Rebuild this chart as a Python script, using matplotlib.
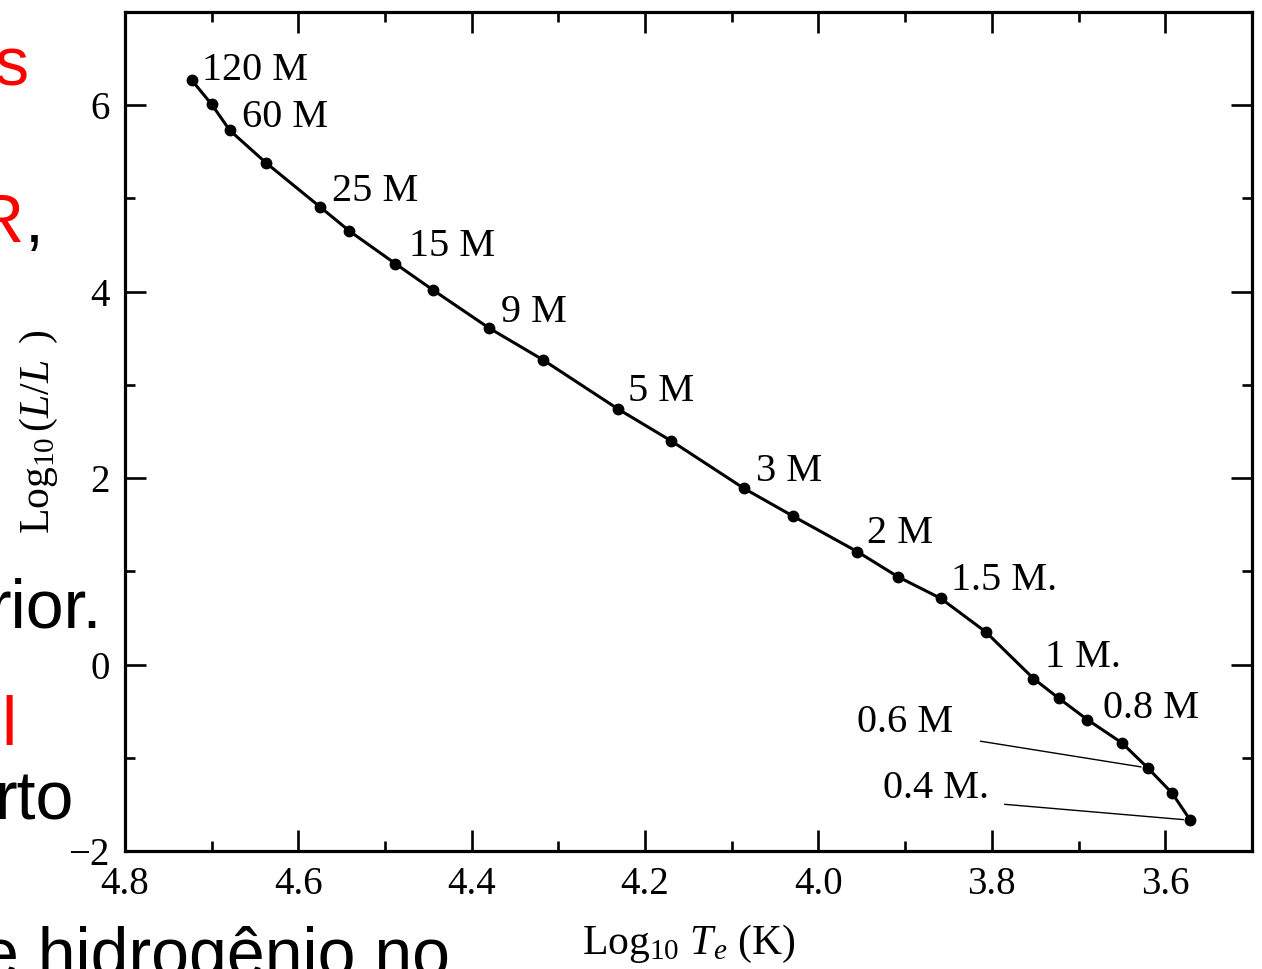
import matplotlib
matplotlib.use("Agg")
import matplotlib.pyplot as plt
from matplotlib.ticker import MultipleLocator

# zero-age main sequence
log_teff = [4.723, 4.700, 4.679, 4.637, 4.575, 4.541, 4.488, 4.445, 4.380, 4.318,
            4.231, 4.170, 4.086, 4.029, 3.955, 3.908, 3.859, 3.807, 3.752, 3.723,
            3.690, 3.650, 3.620, 3.592, 3.571]
log_lum = [6.27, 6.01, 5.73, 5.38, 4.91, 4.65, 4.30, 4.02, 3.61, 3.27,
           2.74, 2.40, 1.89, 1.59, 1.21, 0.94, 0.71, 0.35, -0.15, -0.36,
           -0.59, -0.84, -1.11, -1.38, -1.67]

# every second point carries a mass label
mass_labels = ["120 M", "60 M", "25 M", "15 M", "9 M", "5 M", "3 M", "2 M",
               "1.5 M.", "1 M.", "0.8 M", "0.6 M", "0.4 M."]

# label offsets from their point (pixels), the last two have leader lines
label_offsets = [(10, 10), (12, 13), (12, 15), (14, 17), (12, 16), (10, 18),
                 (12, 17), (10, 18), (10, 18), (12, 21), (16, 11),
                 (-291, 46), (-307, 32)]
leader_gap = {11: 18, 12: 9}

plt.rcParams["font.family"] = ["Liberation Serif", "DejaVu Serif"]
plt.rcParams["mathtext.fontset"] = "custom"
plt.rcParams["mathtext.rm"] = "Liberation Serif"
plt.rcParams["mathtext.it"] = "Liberation Serif:italic"

fig = plt.figure(figsize=(12.62, 9.69), dpi=100)
ax = fig.add_axes([0.099, 0.1218, 0.893, 0.8658])

ax.plot(log_teff, log_lum, color="black", lw=2.2, marker="o", ms=7.5)

for i, lab in enumerate(mass_labels):
    k = 2 * i
    dx, dy = label_offsets[i]
    if i in leader_gap:
        ax.annotate(lab, (log_teff[k], log_lum[k]), xytext=(dx, dy),
                    textcoords="offset pixels", ha="left", va="center", fontsize=29,
                    arrowprops=dict(arrowstyle="-", lw=1.0, color="black",
                                    relpos=(1.0, 0.1), shrinkA=leader_gap[i],
                                    shrinkB=5))
    else:
        ax.annotate(lab, (log_teff[k], log_lum[k]), xytext=(dx, dy),
                    textcoords="offset pixels", ha="left", va="center", fontsize=29)

ax.set_xlim(4.8, 3.5)
ax.set_ylim(-2, 7)
ax.xaxis.set_major_locator(MultipleLocator(0.2))
ax.xaxis.set_minor_locator(MultipleLocator(0.1))
ax.yaxis.set_major_locator(MultipleLocator(2))
ax.yaxis.set_minor_locator(MultipleLocator(1))
ax.tick_params(which="both", direction="in", top=True, right=True, width=1.9)
ax.tick_params(which="major", length=15, labelsize=28, pad=11)
ax.tick_params(which="minor", length=7)
for s in ax.spines.values():
    s.set_linewidth(2.3)

ax.set_xlabel(r"Log$_{10}$ $T_e$ (K)", fontsize=30, labelpad=14)
ax.set_ylabel(r"Log$_{10}\,$($L/L\;\;$)", fontsize=30, labelpad=6)

# leftover slide text overlapping the picture
W, H = 1262, 969
slide = dict(fontsize=49, family="Liberation Sans", va="baseline", ha="right")
fig.text(28 / W, 1 - 85 / H, "s", color="red", **slide)
fig.text(23 / W, 1 - 242 / H, "R", color="red", **slide)
fig.text(44 / W, 1 - 242 / H, ",", color="black", **slide)
fig.text(102 / W, 1 - 628 / H, "rior.", color="black", **slide)
fig.text(16 / W, 1 - 745 / H, "l", color="red", **slide)
fig.text(74 / W, 1 - 820 / H, "rto", color="black", **slide)
fig.text(450 / W, 1 - 976 / H, "e hidrogênio no", color="black", **slide)

fig.savefig("out.png", dpi=100)
